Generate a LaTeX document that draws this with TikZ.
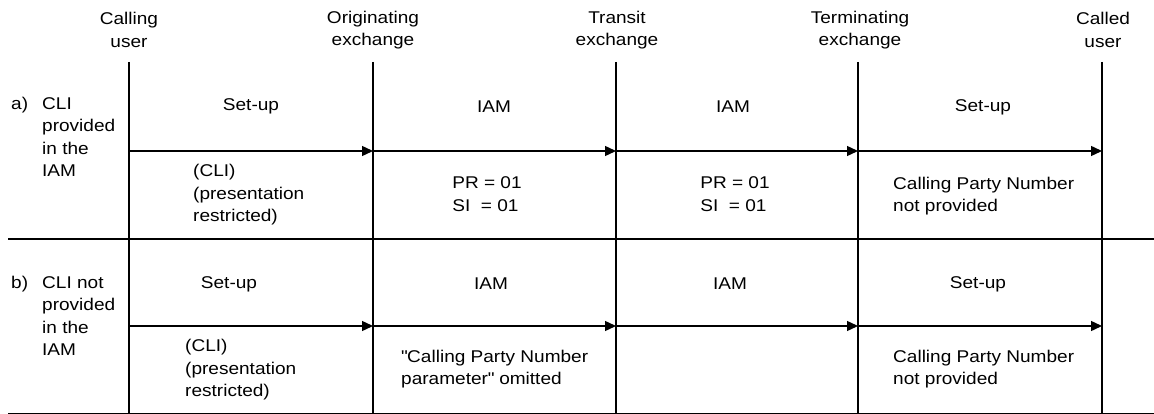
\documentclass[tikz,border=0pt]{standalone}
\usepackage{fontspec}
\setmainfont{Liberation Sans}[FakeStretch=1.12]
\usetikzlibrary{arrows.meta}

\begin{document}
\begin{tikzpicture}[x=1pt, y=-1pt,
  every node/.style={inner sep=0pt, font=\fontsize{17}{22.5}\selectfont},
  lifeline/.style={line width=1.6pt},
  divider/.style={line width=1.5pt},
  msg/.style={line width=1.4pt, -{Triangle[length=11pt,width=10pt]}},
  lefttxt/.style={align=left, anchor=west}]
  \useasboundingbox (0,0) rectangle (1154,414);

  % exchanges and users
  \node[align=center] (cu) at (129,30) {Calling\\user};
  \node[align=center] (oe) at (373,30) {Originating\\exchange};
  \node[align=center] (te) at (617,30) {Transit\\exchange};
  \node[align=center] (tm) at (860,30) {Terminating\\exchange};
  \node[align=center] (cd) at (1103,30) {Called\\user};

  \coordinate (cu-top) at (129,62);  \coordinate (cu-bot) at (129,413);
  \coordinate (oe-top) at (373,62);  \coordinate (oe-bot) at (373,413);
  \coordinate (te-top) at (616,62);  \coordinate (te-bot) at (616,413);
  \coordinate (tm-top) at (858,62);  \coordinate (tm-bot) at (858,413);
  \coordinate (cd-top) at (1102,62); \coordinate (cd-bot) at (1102,413);
  \draw[lifeline] (cu-top) -- (cu-bot);
  \draw[lifeline] (oe-top) -- (oe-bot);
  \draw[lifeline] (te-top) -- (te-bot);
  \draw[lifeline] (tm-top) -- (tm-bot);
  \draw[lifeline] (cd-top) -- (cd-bot);

  % case a)
  \node[anchor=west] (a-tag) at (11,105) {a)};
  \node[lefttxt] (a-case) at (42,137) {CLI\\provided\\in the\\IAM};
  \node (a-m1) at (251,106) {Set-up};
  \node (a-m2) at (494,107) {IAM};
  \node (a-m3) at (733,107) {IAM};
  \node (a-m4) at (983,107) {Set-up};
  \coordinate (cu-a) at (129,151);
  \coordinate (oe-a) at (373,151);
  \coordinate (te-a) at (616,151);
  \coordinate (tm-a) at (858,151);
  \coordinate (cd-a) at (1102,151);
  \draw[msg] (cu-a) -- (oe-a);
  \draw[msg] (oe-a) -- (te-a);
  \draw[msg] (te-a) -- (tm-a);
  \draw[msg] (tm-a) -- (cd-a);
  \node[lefttxt] (a-i1) at (193,195) {(CLI)\\(presentation\\restricted)};
  \node[align=left] (a-i2) at (487,194) {PR = 01\\SI~~= 01};
  \node[align=left] (a-i3) at (735,194) {PR = 01\\SI~~= 01};
  \node[lefttxt] (a-i4) at (893,196) {Calling Party Number\\not provided};

  \coordinate (sep-l) at (8,239);
  \coordinate (sep-r) at (1154,239);
  \draw[divider] (sep-l) -- (sep-r);

  % case b)
  \node[anchor=west] (b-tag) at (11,284) {b)};
  \node[lefttxt] (b-case) at (42,316) {CLI not\\provided\\in the\\IAM};
  \node (b-m1) at (229,284) {Set-up};
  \node (b-m2) at (491,284) {IAM};
  \node (b-m3) at (730,284) {IAM};
  \node (b-m4) at (978,284) {Set-up};
  \coordinate (cu-b) at (129,326);
  \coordinate (oe-b) at (373,326);
  \coordinate (te-b) at (616,326);
  \coordinate (tm-b) at (858,326);
  \coordinate (cd-b) at (1102,326);
  \draw[msg] (cu-b) -- (oe-b);
  \draw[msg] (oe-b) -- (te-b);
  \draw[msg] (te-b) -- (tm-b);
  \draw[msg] (tm-b) -- (cd-b);
  \node[lefttxt] (b-i1) at (185,370) {(CLI)\\(presentation\\restricted)};
  \node[lefttxt] (b-i2) at (401,369) {\textquotedbl Calling Party Number\\parameter\textquotedbl{} omitted};
  \node[lefttxt] (b-i4) at (893,369) {Calling Party Number\\not provided};

  \coordinate (end-l) at (8,413);
  \coordinate (end-r) at (1154,413);
  \draw[line width=0.8pt] (end-l) -- (end-r);
\end{tikzpicture}
\end{document}
